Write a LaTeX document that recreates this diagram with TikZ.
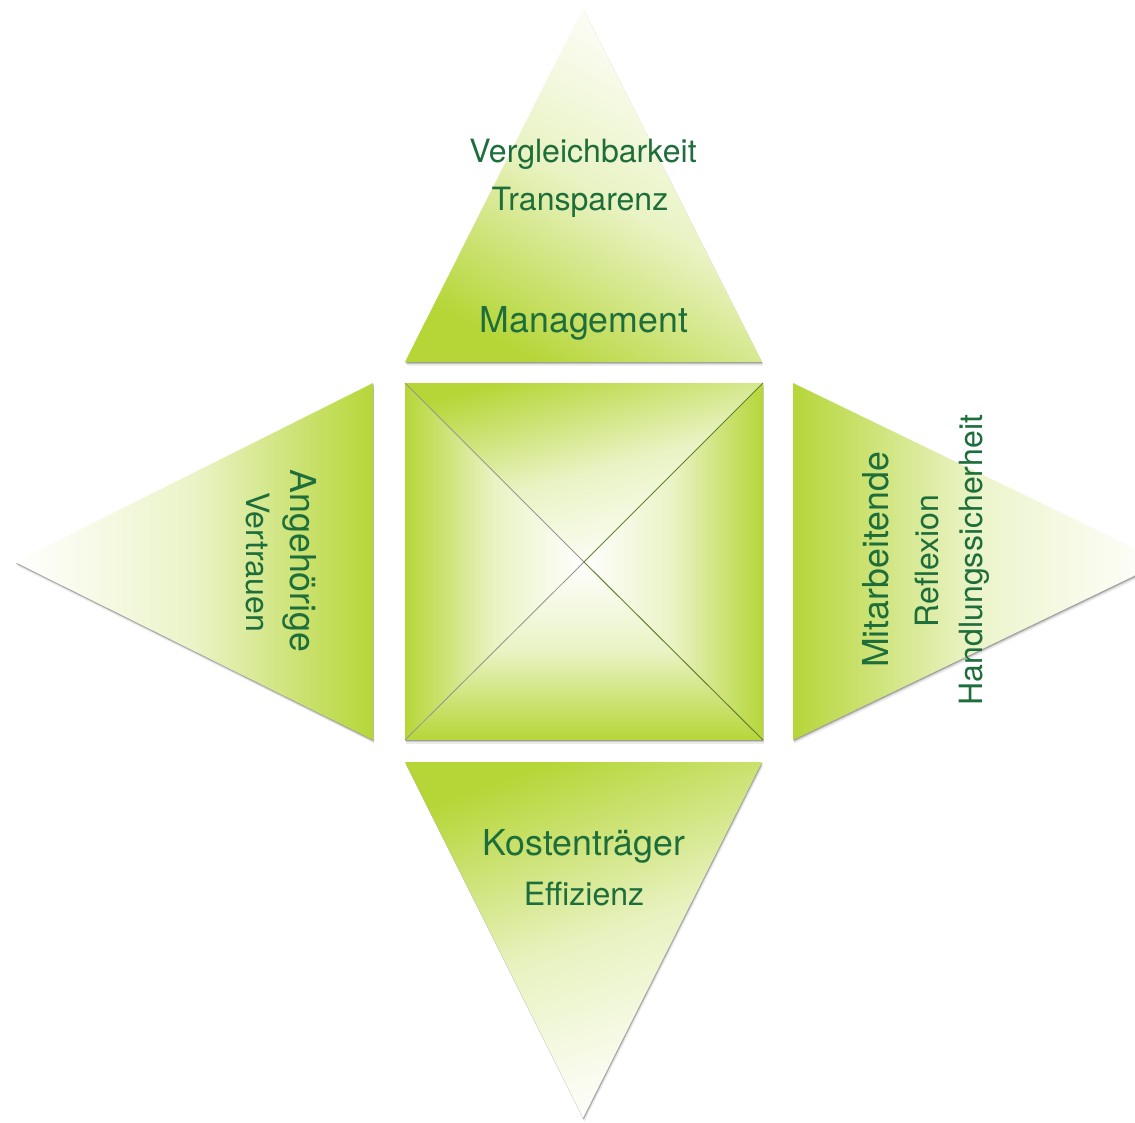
\documentclass[tikz,border=0pt]{standalone}
\usepackage{fontspec}
\setmainfont{TeX Gyre Heros}
\usepackage{tikz}

\definecolor{leaf}{RGB}{182,214,56}
\definecolor{textgreen}{RGB}{30,110,60}
\definecolor{seamgray}{RGB}{150,150,140}
\definecolor{seamolive}{RGB}{100,130,45}

\tikzset{
	mainlabel/.style={font=\fontsize{25.4}{30}\selectfont},
	sublabel/.style={font=\fontsize{22.8}{27}\selectfont}
}

\begin{document}
\begin{tikzpicture}[x=0.25mm, y=-0.25mm]
	\clip (0,0) rectangle (1135,1122);

	\coordinate (tapex) at (583,8);
	\coordinate (tbl) at (405,362);
	\coordinate (tbr) at (762,362);
	\coordinate (btl) at (405,762);
	\coordinate (btr) at (762,762);
	\coordinate (bapex) at (583,1118);
	\coordinate (ltop) at (373,383);
	\coordinate (lbot) at (373,740);
	\coordinate (lapex) at (15,562);
	\coordinate (rtop) at (793,383);
	\coordinate (rbot) at (793,740);
	\coordinate (rapex) at (1163,562);
	\coordinate (nw) at (405,383);
	\coordinate (ne) at (763,383);
	\coordinate (sw) at (405,740);
	\coordinate (se) at (763,740);
	\coordinate (ctr) at (584,562);

	\foreach \d/\op in {1/0.22, 2/0.15, 3.5/0.08}{
		\begin{scope}[transform canvas={shift={(0.4*\d,\d)}}]
			\fill[black, opacity=\op] (tapex) -- (tbr) -- (tbl) -- cycle;
			\fill[black, opacity=\op] (btl) -- (btr) -- (bapex) -- cycle;
			\fill[black, opacity=\op] (ltop) -- (lbot) -- (lapex) -- cycle;
			\fill[black, opacity=\op] (rtop) -- (rapex) -- (rbot) -- cycle;
			\fill[black, opacity=\op] (nw) rectangle (se);
		\end{scope}
	}

	\path[top color=white, bottom color=leaf, middle color=leaf!30!white, shading angle=-30] (tapex) -- (tbr) -- (tbl) -- cycle;
	\path[top color=leaf, bottom color=white, middle color=leaf!32!white, shading angle=20] (btl) -- (btr) -- (bapex) -- cycle;
	\path[left color=white, right color=leaf, middle color=leaf!28!white] (ltop) -- (lbot) -- (lapex) -- cycle;
	\path[left color=leaf, right color=white, middle color=leaf!26!white] (rtop) -- (rapex) -- (rbot) -- cycle;

	\begin{scope}
		\path[top color=leaf, bottom color=white, middle color=leaf!30!white, shading angle=15] (nw) -- (ne) -- (ctr) -- cycle;
		\path[left color=leaf, right color=white, middle color=leaf!30!white] (nw) -- (ctr) -- (sw) -- cycle;
		\path[left color=white, right color=leaf, middle color=leaf!30!white] (ne) -- (se) -- (ctr) -- cycle;
		\path[top color=white, bottom color=leaf, middle color=leaf!30!white] (sw) -- (ctr) -- (se) -- cycle;
		\draw[seamgray, line width=0.6pt] (nw) -- (ctr) -- (sw);
		\draw[seamolive, line width=0.7pt] (ne) -- (ctr) -- (se);
	\end{scope}

	\begin{scope}[every node/.style={text=textgreen, inner sep=0pt, anchor=base}]
		\node[sublabel] (vergleich) at (583,162) {Vergleichbarkeit};
		\node[sublabel] (transparenz) at (580,210) {Transparenz};
		\node[mainlabel] (management) at (584,332) {Management};

		\node[mainlabel] (kosten) at (584,855) {Kostenträger};
		\node[sublabel] (effizienz) at (584,905) {Effizienz};

		\node[mainlabel, rotate=90] (mitarbeit) at (888,560) {Mitarbeitende};
		\node[sublabel, rotate=90] (reflexion) at (938,561) {Reflexion};
		\node[sublabel, rotate=90] (handlung) at (982,560) {Handlungssicherheit};

		\node[mainlabel, rotate=-90] (angehoerige) at (290,561) {Angehörige};
		\node[sublabel, rotate=-90] (vertrauen) at (246,562) {Vertrauen};
	\end{scope}
\end{tikzpicture}
\end{document}
